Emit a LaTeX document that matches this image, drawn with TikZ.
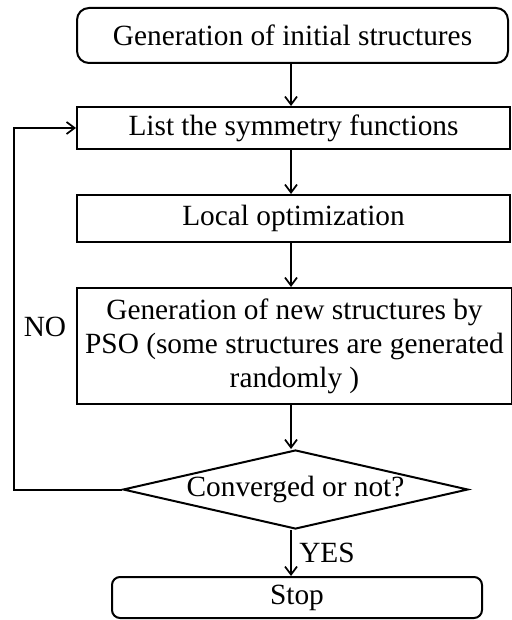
\documentclass[tikz,border=0pt]{standalone}
\usepackage{fontspec}
\setmainfont{Liberation Serif}
\usetikzlibrary{shapes.geometric,arrows.meta}
\begin{document}
\begin{tikzpicture}[x=0.75pt,y=-0.75pt,
  every node/.style={font=\fontsize{22}{25.5}\selectfont},
  flowbox/.style={draw,line width=1.5pt,inner sep=0pt,align=center},
  roundbox/.style={flowbox,rounded corners=9pt},
  decision/.style={draw,line width=1.5pt,diamond,aspect=4.37,inner sep=0pt},
  flow/.style={line width=1.5pt,-{Straight Barb[length=6pt,width=9pt,line width=1.3pt]}},
  lbl/.style={inner sep=0pt}]
\useasboundingbox (0,0) rectangle (511,620);
\node[roundbox,minimum width=323.25pt,minimum height=41.25pt] (b1) at (292.5,35.5) {Generation of initial structures};
\node[flowbox,minimum width=324.75pt,minimum height=31.5pt] (b2) at (293.5,128) {List the symmetry functions};
\node[flowbox,minimum width=324.75pt,minimum height=35.25pt] (b3) at (293.5,218.5) {Local optimization};
\node[flowbox,minimum width=326.25pt,minimum height=87pt] (b4) at (294.5,346) {Generation of new structures by\\PSO (some structures are generated\\randomly )};
\node[decision,minimum width=258.75pt,minimum height=59.25pt] (d) at (295.5,489.5) {Converged or not?};
\node[roundbox,rounded corners=6pt,minimum width=277.5pt,minimum height=30.75pt] (s) at (297,597.5) {Stop};
\coordinate (ax) at (291,0);
\coordinate (fb) at (14,0);
\draw[flow] (b1.south -| ax) -- (b2.north -| ax);
\draw[flow] (b2.south -| ax) -- (b3.north -| ax);
\draw[flow] (b3.south -| ax) -- (b4.north -| ax);
\draw[flow] (b4.south -| ax) -- (d.north -| ax);
\draw[flow] (d.south -| ax) -- (s.north -| ax);
\draw[flow] (d.west) -- (d.west -| fb) |- (b2.west);
\node[lbl] (no) at (45,327) {NO};
\node[lbl,anchor=west] (yes) at (299,553) {YES};
\end{tikzpicture}
\end{document}
